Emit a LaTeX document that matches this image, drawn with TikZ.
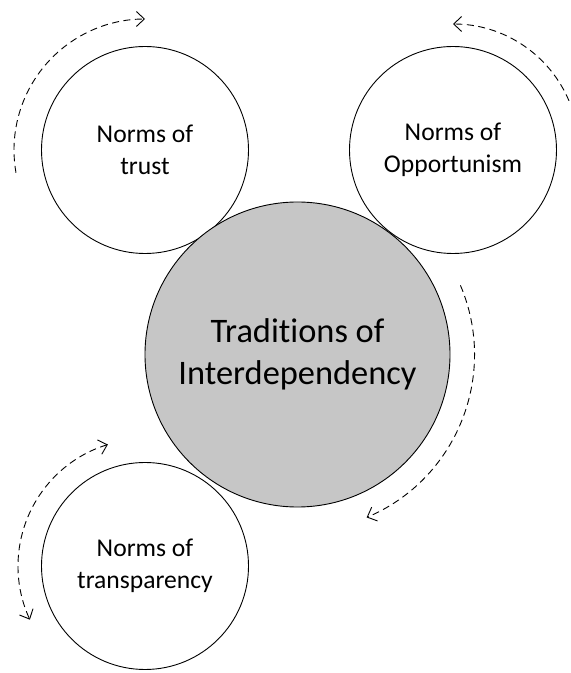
\documentclass[tikz,border=0pt]{standalone}
\usepackage{fontspec}
\setmainfont{Carlito}[Ligatures=NoCommon]
\usepackage{tikz}
\usetikzlibrary{calc,arrows.meta}
\definecolor{core}{HTML}{C6C6C6}

\begin{document}
\begin{tikzpicture}[x=1pt,y=1pt,line width=0.9pt,
  norm/.style={circle,draw,minimum size=207pt,inner sep=0pt,align=center,font=\fontsize{25.6}{31.6}\selectfont},
  cyc/.style={dash pattern=on 7pt off 4.5pt,>={Straight Barb[length=8pt,width=15pt]}}]
\useasboundingbox (0,0) rectangle (571,673);
\node (trust) [norm] at (145,523) {Norms of\\trust};
\node (opport) [norm] at (453,523) {Norms of\\Opportunism};
\node (transp) [norm] at (145,107) {Norms of\\transparency};
\node (trad) [circle,draw,fill=core,minimum size=305pt,inner sep=0pt,align=center,
  font=\fontsize{34.4}{42}\selectfont] at (297.5,318.5) {Traditions of\\Interdependency};

% dashed cycles round the circles
\draw[cyc,->] ($(trust.center)+(190:131)$) arc[start angle=190,end angle=90,radius=131pt];
\draw[cyc,->] ($(opport.center)+(23:126)$) arc[start angle=23,end angle=90,radius=126pt];
\draw[cyc,->] ($(trad.center)+(23:177)$) arc[start angle=23,end angle=-67,radius=177pt];
\draw[cyc,<->] ($(transp.center)+(107:127)$) arc[start angle=107,end angle=205,radius=127pt];
\end{tikzpicture}
\end{document}
